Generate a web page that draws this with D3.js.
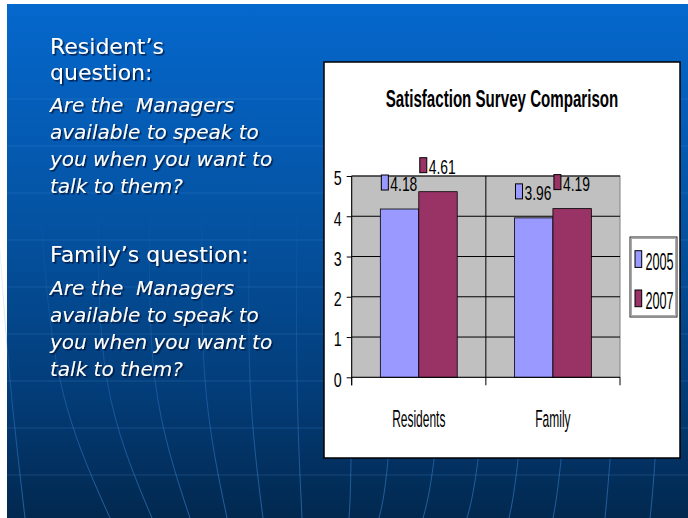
<!DOCTYPE html>
<html>
<head>
<meta charset="utf-8">
<script src="https://cdn.jsdelivr.net/npm/d3@7"></script>
<style>
  html, body { margin: 0; padding: 0; background: #fff; }
  svg { display: block; }
</style>
</head>
<body>
<svg id="slide"></svg>
<script>
// Chart data
const categories = ["Residents", "Family"];
const seriesNames = ["2005", "2007"];
const values2005 = [4.18, 3.96];
const values2007 = [4.61, 4.19];
const yTicks = [0, 1, 2, 3, 4, 5];

// Slide text
const residentHeading = ["Resident\u2019s", "question:"];
const familyHeading = ["Family\u2019s question:"];
const questionLines = ["Are the  Managers", "available to speak to", "you when you want to", "talk to them?"];

const width = 688;
const height = 518;
const svg = d3.select("#slide").attr("width", width).attr("height", height);
const defs = svg.append("defs");

// Slide background gradient
const bg = defs.append("linearGradient").attr("id", "bgGrad")
  .attr("x1", 0).attr("y1", 0).attr("x2", 0).attr("y2", 1);
bg.append("stop").attr("offset", "0%").attr("stop-color", "#0568cd");
bg.append("stop").attr("offset", "45%").attr("stop-color", "#04519f");
bg.append("stop").attr("offset", "75%").attr("stop-color", "#033d79");
bg.append("stop").attr("offset", "100%").attr("stop-color", "#02284f");

// Meridian lines fade out toward the top
const lineGrad = defs.append("linearGradient").attr("id", "lineGrad")
  .attr("gradientUnits", "userSpaceOnUse")
  .attr("x1", 0).attr("y1", 200).attr("x2", 0).attr("y2", 518);
lineGrad.append("stop").attr("offset", "0%").attr("stop-color", "#3f8de0").attr("stop-opacity", 0);
lineGrad.append("stop").attr("offset", "100%").attr("stop-color", "#3f8de0").attr("stop-opacity", 0.55);

const shadow = defs.append("filter").attr("id", "shadow")
  .attr("x", "-10%").attr("y", "-20%").attr("width", "130%").attr("height", "150%");
shadow.append("feDropShadow").attr("dx", 1.5).attr("dy", 1.5).attr("stdDeviation", 0.6)
  .attr("flood-color", "#001030").attr("flood-opacity", 0.8);

svg.append("rect").attr("x", 7).attr("y", 4).attr("width", width - 7).attr("height", height - 4)
  .attr("fill", "url(#bgGrad)");

// Background grid (decoration)
const deco = svg.append("g");
[99, 146, 193, 240, 287, 334, 381, 428, 475].forEach(yy => {
  deco.append("line").attr("x1", 7).attr("x2", width).attr("y1", yy).attr("y2", yy)
    .attr("stroke", "#4a90dc").attr("stroke-opacity", 0.25).attr("stroke-width", 1);
});
const meridians = [
  [[0, 250], [10, 380], [25, 518]],
  [[40, 200], [60, 380], [110, 518]],
  [[98, 200], [107, 380], [152, 518]],
  [[150, 200], [155, 380], [190, 518]],
  [[202, 200], [205, 380], [227, 518]],
  [[250, 200], [250, 380], [263, 518]],
  [[297, 200], [297, 380], [302, 518]],
  [[352, 300], [351, 460], [349, 518]],
  [[400, 300], [388, 460], [379, 518]],
  [[452, 300], [434, 460], [423, 518]],
  [[496, 300], [478, 460], [467, 518]],
  [[534, 300], [518, 460], [509, 518]],
  [[576, 300], [561, 460], [553, 518]],
  [[622, 300], [610, 460], [605, 518]],
  [[665, 300], [655, 460], [650, 518]]
];
const meridianLine = d3.line().curve(d3.curveNatural);
meridians.forEach(m => {
  deco.append("path").attr("d", meridianLine(m)).attr("fill", "none")
    .attr("stroke", "url(#lineGrad)").attr("stroke-width", 1);
});

// Left side text
const textG = svg.append("g").attr("fill", "#fff").attr("filter", "url(#shadow)");
function textBlock(lines, x, y0, step, style) {
  lines.forEach((t, i) => {
    textG.append("text").attr("x", x).attr("y", y0 + i * step)
      .style("white-space", "pre")
      .attr("font-family", "'DejaVu Sans', Verdana, sans-serif")
      .attr("font-size", style.size)
      .attr("font-style", style.italic ? "italic" : "normal")
      .text(t);
  });
}
textBlock(residentHeading, 50, 54, 26, { size: 22 });
textBlock(questionLines, 50, 112, 27, { size: 20, italic: true });
textBlock(familyHeading, 50, 262, 26, { size: 22 });
textBlock(questionLines, 50, 295, 27, { size: 20, italic: true });

// Chart frame
const chartFont = "'Liberation Sans', Arial, sans-serif";
svg.append("rect").attr("x", 324).attr("y", 62).attr("width", 356).attr("height", 396)
  .attr("fill", "#fff").attr("stroke", "#000").attr("stroke-width", 1.5);

// Condensed text helper (chart text is squeezed horizontally)
function ntext(g, x, y, str, size, k, anchor, weight) {
  return g.append("text")
    .attr("transform", `translate(${x},${y}) scale(${k},1)`)
    .attr("text-anchor", anchor || "start")
    .attr("font-family", chartFont)
    .attr("font-size", size)
    .attr("font-weight", weight || "normal")
    .attr("fill", "#000")
    .text(str);
}

ntext(svg, 502, 106.7, "Satisfaction Survey Comparison", 24, 0.63, "middle", "bold");

const plot = { left: 351.7, right: 620, top: 176, bottom: 377.3 };
const x = d3.scaleBand().domain(categories).range([plot.left, plot.right]);
const xs = d3.scaleBand().domain(seriesNames).range([0, x.bandwidth()])
  .paddingInner(0).paddingOuter(0.745);
const y = d3.scaleLinear().domain([0, 5]).range([plot.bottom, plot.top]);
const color = d3.scaleOrdinal().domain(seriesNames).range(["#9999ff", "#993366"]);

const rows = categories.map((c, i) => ({
  category: c,
  values: [
    { series: "2005", value: values2005[i] },
    { series: "2007", value: values2007[i] }
  ]
}));

const chart = svg.append("g");

// Plot area
chart.append("rect")
  .attr("x", plot.left).attr("y", plot.top)
  .attr("width", plot.right - plot.left).attr("height", plot.bottom - plot.top)
  .attr("fill", "#c0c0c0").attr("stroke", "#808080").attr("stroke-width", 1);

// Horizontal gridlines
chart.append("g").selectAll("line").data(yTicks.filter(d => d > 0)).join("line")
  .attr("x1", plot.left).attr("x2", plot.right)
  .attr("y1", d => y(d)).attr("y2", d => y(d))
  .attr("stroke", "#000").attr("stroke-width", 1);

// Category dividers (extend below axis as ticks)
const bounds = categories.map(c => x(c)).concat([x.range()[1]]);
chart.append("g").selectAll("line").data(bounds).join("line")
  .attr("x1", d => d).attr("x2", d => d)
  .attr("y1", (d, i) => (i === 0 || i === bounds.length - 1) ? plot.bottom : plot.top)
  .attr("y2", plot.bottom + 8)
  .attr("stroke", "#000").attr("stroke-width", 1);

// Bars
const groups = chart.append("g").selectAll("g").data(rows).join("g")
  .attr("transform", d => `translate(${x(d.category)},0)`);
groups.selectAll("rect").data(d => d.values).join("rect")
  .attr("x", d => xs(d.series))
  .attr("y", d => y(d.value))
  .attr("width", xs.bandwidth())
  .attr("height", d => y(0) - y(d.value))
  .attr("fill", d => color(d.series))
  .attr("stroke", "#000").attr("stroke-width", 0.8);

// Data labels with legend key
groups.selectAll("g.lbl").data(d => d.values).join("g").attr("class", "lbl")
  .each(function (d) {
    const g = d3.select(this);
    const bx = xs(d.series) + 1;
    const base = y(d.value) - 18;
    g.append("rect").attr("x", bx).attr("y", base - 16).attr("width", 7).attr("height", 15)
      .attr("fill", color(d.series)).attr("stroke", "#000").attr("stroke-width", 1);
    ntext(g, bx + 9, base, d.value.toFixed(2), 21, 0.66, "start");
  });

// Y axis
const yAxis = chart.append("g")
  .attr("transform", `translate(${plot.left},0)`)
  .call(d3.axisLeft(y).tickValues(yTicks).tickSize(5).tickSizeOuter(0).tickFormat(d3.format("d")));
yAxis.select(".domain").attr("stroke", "#000").attr("d", `M0,${plot.top}V${plot.bottom + 8}`);
yAxis.selectAll(".tick line").attr("stroke", "#000");
yAxis.selectAll(".tick text")
  .attr("font-family", chartFont).attr("font-size", 21).attr("fill", "#000")
  .attr("transform", "scale(0.68,1)").attr("x", -10 / 0.68).attr("dy", "0.42em");

// X axis line and labels
chart.append("line").attr("x1", plot.left).attr("x2", plot.right)
  .attr("y1", plot.bottom).attr("y2", plot.bottom).attr("stroke", "#000").attr("stroke-width", 1);
categories.forEach(c => {
  ntext(chart, x(c) + x.bandwidth() / 2, 426.7, c, 23.5, 0.51, "middle");
});

// Legend
const legend = svg.append("g");
legend.append("rect").attr("x", 630).attr("y", 237).attr("width", 47).attr("height", 80)
  .attr("fill", "#fff").attr("stroke", "#222").attr("stroke-width", 1);
legend.append("rect").attr("x", 631.5).attr("y", 238.5).attr("width", 44).attr("height", 77)
  .attr("fill", "none").attr("stroke", "#aaa").attr("stroke-width", 1);
seriesNames.forEach((s, i) => {
  const cy = 259 + i * 39.3;
  legend.append("rect").attr("x", 635).attr("y", cy - 8.3).attr("width", 6.7).attr("height", 16.7)
    .attr("fill", color(s)).attr("stroke", "#000").attr("stroke-width", 1);
  ntext(legend, 645.5, cy + 11, s, 23, 0.55, "start");
});
</script>
</body>
</html>
